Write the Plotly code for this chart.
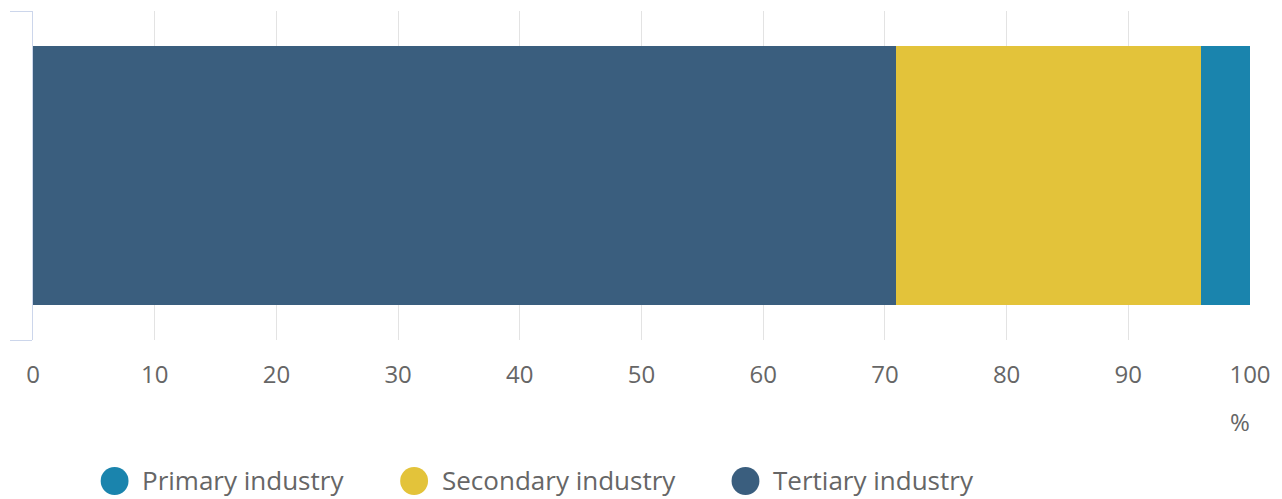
import plotly.graph_objects as go

# Data
categories = ["Share of GDP"]
series_names = ["Tertiary industry", "Secondary industry", "Primary industry"]
series_values = [70.9, 25.1, 4.0]
series_colors = ["#3a5e7e", "#e3c33a", "#1a84ad"]
legend_order = ["Primary industry", "Secondary industry", "Tertiary industry"]
x_ticks = [0, 10, 20, 30, 40, 50, 60, 70, 80, 90, 100]
unit_label = "%"

W, H = 1282, 499
ML, MR, MT, MB = 30, 29, 11, 159
PW, PH = W - ML - MR, H - MT - MB

def px2paper(px, py):
    return (px - ML) / PW, (H - MB - py) / PH

fig = go.Figure()
for name, val, col in zip(series_names, series_values, series_colors):
    fig.add_trace(go.Bar(
        y=[0], x=[val], orientation="h", name=name,
        marker=dict(color=col, line=dict(width=0)),
        width=0.787, showlegend=False, hoverinfo="x+name",
    ))

FONT = "Open Sans, Noto Sans, sans-serif"
shapes = []
annotations = []
color_map = dict(zip(series_names, series_colors))
legend_circle_px = [112, 413, 746]
legend_text_px = [138, 439, 772]
legend_y = 481
r = 14
for name, cx, tx in zip(legend_order, legend_circle_px, legend_text_px):
    x0, y0 = px2paper(cx - r, legend_y + r)
    x1, y1 = px2paper(cx + r, legend_y - r)
    shapes.append(dict(type="circle", xref="paper", yref="paper",
                       x0=x0, y0=y0, x1=x1, y1=y1,
                       fillcolor=color_map[name], line=dict(width=0)))
    ax, ay = px2paper(tx, legend_y - 1)
    annotations.append(dict(text=name, xref="paper", yref="paper", x=ax, y=ay,
                            xanchor="left", yanchor="middle", showarrow=False,
                            font=dict(family=FONT, size=26, color="#666666")))

ux, uy = px2paper(1243, 421)
annotations.append(dict(text=unit_label, xref="paper", yref="paper", x=ux, y=uy,
                        xanchor="center", yanchor="middle", showarrow=False,
                        font=dict(family=FONT, size=24, color="#666666")))

fig.update_layout(
    width=W, height=H,
    margin=dict(l=ML, r=MR, t=MT, b=MB, pad=0),
    barmode="stack",
    plot_bgcolor="white", paper_bgcolor="white",
    showlegend=False,
    shapes=shapes, annotations=annotations,
    font=dict(family=FONT, color="#666666"),
    xaxis=dict(range=[0, 100], tickvals=x_ticks, ticktext=[str(t) for t in x_ticks],
               showgrid=True, gridcolor="#e3e3e3", gridwidth=1,
               zeroline=False, showline=False, ticks="",
               tickfont=dict(family=FONT, size=24, color="#666666"),
               ticklabelstandoff=18, fixedrange=True),
    yaxis=dict(range=[-0.5, 0.5], tickvals=[-0.5, 0.5], ticktext=["", ""],
               showgrid=False, zeroline=False, showline=True,
               linecolor="#ccd6eb", linewidth=1,
               ticks="outside", ticklen=22, tickcolor="#ccd6eb", tickwidth=1,
               fixedrange=True),
)

fig.write_html("out.html", config={"displayModeBar": False},
               post_script="document.body.style.margin='0';document.body.style.overflow='hidden';")
